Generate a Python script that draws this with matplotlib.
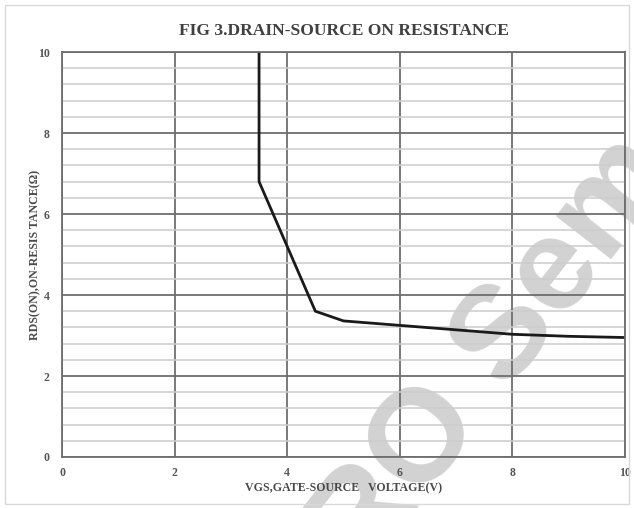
import matplotlib
matplotlib.use('Agg')
import matplotlib.pyplot as plt
from matplotlib.patches import Rectangle
from matplotlib.ticker import MultipleLocator

# curve
vgs = [3.5, 3.5, 4.5, 5.0, 6.0, 7.0, 8.0, 9.0, 10.0]
rds = [10.0, 6.8, 3.6, 3.36, 3.25, 3.14, 3.03, 2.98, 2.95]

title = 'FIG 3.DRAIN-SOURCE ON RESISTANCE'
xlabel = 'VGS,GATE-SOURCE   VOLTAGE(V)'
ylabel = 'RDS(ON),ON-RESIS TANCE(\u03a9)'

plt.rcParams['font.family'] = ['Liberation Serif', 'DejaVu Serif']

fig = plt.figure(figsize=(6.34, 5.08), dpi=100)
fig.patches.append(Rectangle((0.008, 0.008), 0.984, 0.982, transform=fig.transFigure,
                             fill=False, edgecolor='#d9d9d9', lw=1))

ax = fig.add_axes([0.0978, 0.1004, 0.888, 0.7972])
ax.set_facecolor('none')
ax.set_xlim(0, 10)
ax.set_ylim(0, 10)
ax.xaxis.set_major_locator(MultipleLocator(2))
ax.yaxis.set_major_locator(MultipleLocator(2))
ax.yaxis.set_minor_locator(MultipleLocator(0.4))
ax.grid(which='major', color='#6e6e6e', lw=1.3)
ax.grid(which='minor', axis='y', color='#cccccc', lw=1.1)
ax.set_axisbelow(True)
for s in ax.spines.values():
    s.set_color('#6e6e6e')
    s.set_linewidth(1.3)
ax.tick_params(which='both', length=0, labelsize=8.5, labelcolor='#555555')
ax.tick_params(axis='x', pad=7)
ax.tick_params(axis='y', pad=9)
for lab in ax.get_xticklabels() + ax.get_yticklabels():
    lab.set_fontweight('bold')

ax.plot(vgs, rds, color='#1a1a1a', lw=2)

ax.set_title(title, fontsize=12.6, fontweight='bold', color='#404040', pad=12)
ax.set_xlabel(xlabel, fontsize=8.6, fontweight='bold', color='#4a4a4a')
ax.set_ylabel(ylabel, fontsize=8.6, fontweight='bold', color='#4a4a4a')
ax.xaxis.set_label_coords(0.5, -0.062)
ax.yaxis.set_label_coords(-0.036, 0.5)

# faint watermark behind the plot
fig.text(0.735, 0.234, 'PRO Sem', fontsize=95, fontweight='bold', color='#d2d2d2',
         family='Liberation Sans', rotation=52, rotation_mode='anchor',
         ha='center', va='center', zorder=-1)

fig.savefig('out.png', dpi=100)
